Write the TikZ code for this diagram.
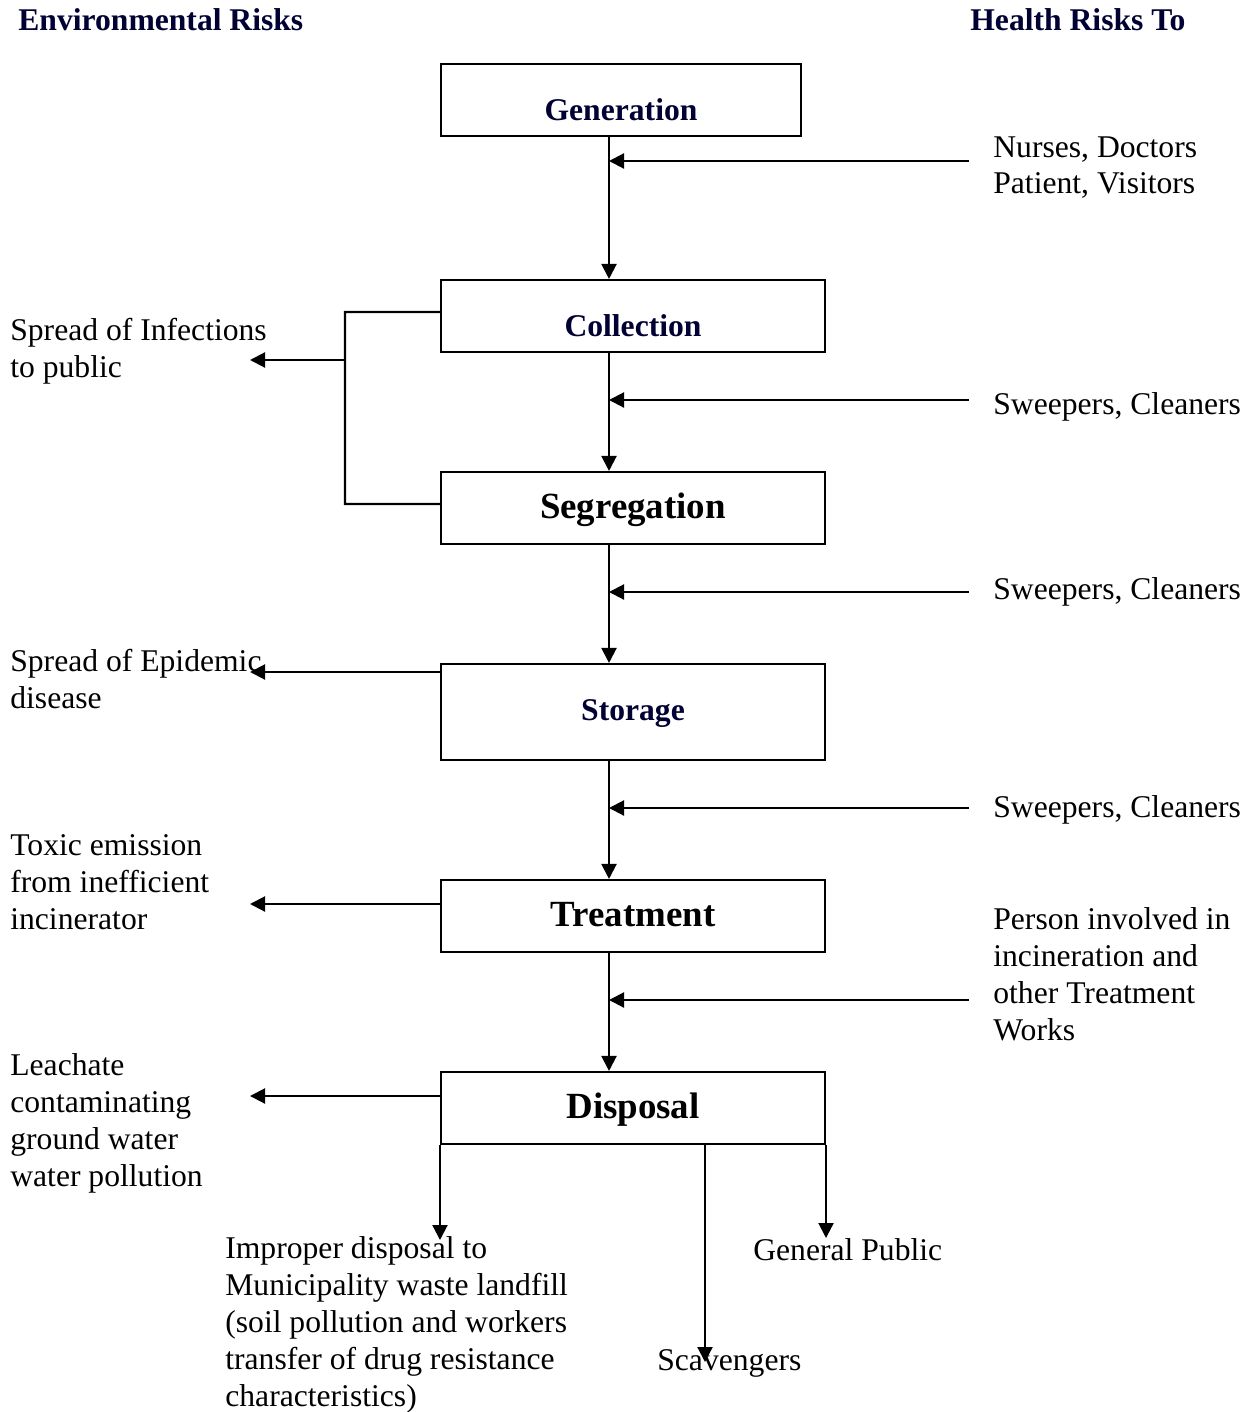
\documentclass[tikz,border=0pt]{standalone}
\usepackage{fontspec}
\setmainfont{Liberation Serif}
\usetikzlibrary{positioning,arrows.meta}
\definecolor{navy}{RGB}{0,0,51}

\begin{document}
\begin{tikzpicture}[x=0.02cm,y=-0.02cm]
  \useasboundingbox (0,0) rectangle (1256,1412);

  \coordinate (Gen) at (621,100);
  \coordinate (Col) at (633,316);
  \coordinate (Seg) at (633,508);
  \coordinate (Sto) at (633,712);
  \coordinate (Tre) at (633,916);
  \coordinate (Dis) at (633,1108);
  \coordinate (Spine) at (609,0);

  \tikzstyle{sbox}=[draw,line width=1.2pt,shape=rectangle,inner sep=0pt,
                    minimum width=7.68cm,minimum height=1.44cm,
                    font=\fontsize{21}{24}\selectfont\bfseries,
                    text height=0.42cm,text depth=0pt];
  \tikzstyle{nbox}=[sbox,text=navy,
                    font=\fontsize{18}{21}\selectfont\bfseries,
                    text height=0.84cm];
  \tikzstyle{head}=[inner sep=0pt,anchor=base west,text=navy,
                    font=\fontsize{18}{21}\selectfont\bfseries];
  \tikzstyle{txt}=[inner sep=0pt,align=left,anchor=base west,
                   font=\fontsize{18}{21}\selectfont];
  \tikzstyle{flow}=[->,line width=1.2pt,
                    >={Triangle[length=0.3cm,width=0.3cm]}];

  \node[head] (EnvHead) at (18,31) {Environmental Risks};
  \node[head] (HeaHead) at (970,31) {Health Risks To};

  \node[nbox,minimum width=7.2cm] (GenBox) at (Gen) {Generation};
  \node[nbox] (ColBox) at (Col) {Collection};
  \node[sbox] (SegBox) at (Seg) {Segregation};
  \node[nbox,minimum height=1.92cm,text height=0.34cm] (StoBox) at (Sto) {Storage};
  \node[sbox] (TreBox) at (Tre) {Treatment};
  \node[sbox] (DisBox) at (Dis) {Disposal};

  % main flow
  \draw[flow] (GenBox.south -| Spine) -- (ColBox.north -| Spine);
  \draw[flow] (ColBox.south -| Spine) -- (SegBox.north -| Spine);
  \draw[flow] (SegBox.south -| Spine) -- (StoBox.north -| Spine);
  \draw[flow] (StoBox.south -| Spine) -- (TreBox.north -| Spine);
  \draw[flow] (TreBox.south -| Spine) -- (DisBox.north -| Spine);

  % health risks
  \node[txt] (NurTxt) at (993,194) {Nurses, Doctors\\Patient, Visitors};
  \coordinate (NurTail) at (969,161);
  \draw[flow] (NurTail) -- (NurTail -| Spine);

  \node[txt] (SweTxtA) at (993,414) {Sweepers, Cleaners};
  \coordinate (SweTailA) at (969,400);
  \draw[flow] (SweTailA) -- (SweTailA -| Spine);

  \node[txt] (SweTxtB) at (993,599) {Sweepers, Cleaners};
  \coordinate (SweTailB) at (969,592);
  \draw[flow] (SweTailB) -- (SweTailB -| Spine);

  \node[txt] (SweTxtC) at (993,817) {Sweepers, Cleaners};
  \coordinate (SweTailC) at (969,808);
  \draw[flow] (SweTailC) -- (SweTailC -| Spine);

  \node[txt] (PerTxt) at (993,1040) {Person involved in\\incineration and\\other Treatment\\Works};
  \coordinate (PerTail) at (969,1000);
  \draw[flow] (PerTail) -- (PerTail -| Spine);

  % environmental risks
  \node[txt] (InfTxt) at (10,377) {Spread of Infections\\to public};
  \coordinate (InfHead) at (250,360);
  \draw[line width=1.2pt] ([yshift=0.08cm]ColBox.west) -| (345,504) -- ([yshift=0.08cm]SegBox.west);
  \draw[flow] (345,360) -- (InfHead);

  \node[txt] (EpiTxt) at (10,708) {Spread of Epidemic\\disease};
  \coordinate (EpiHead) at (250,672);
  \draw[flow] (EpiHead -| StoBox.west) -- (EpiHead);

  \node[txt] (ToxTxt) at (10,929) {Toxic emission\\from inefficient\\incinerator};
  \coordinate (ToxHead) at (250,904);
  \draw[flow] (ToxHead -| TreBox.west) -- (ToxHead);

  \node[txt] (LeaTxt) at (10,1186) {Leachate\\contaminating\\ground water\\water pollution};
  \coordinate (LeaHead) at (250,1096);
  \draw[flow] (LeaHead -| DisBox.west) -- (LeaHead);

  % disposal outlets
  \node[txt] (ImpTxt) at (225,1406) {Improper disposal to\\Municipality waste landfill\\(soil pollution and workers\\transfer of drug resistance\\characteristics)};
  \coordinate (ImpHead) at (441,1240);
  \draw[flow] (DisBox.south west) -- (DisBox.south west |- ImpHead);

  \node[txt] (GenTxt) at (753,1260) {General Public};
  \coordinate (PubHead) at (825,1238);
  \draw[flow] (DisBox.south east) -- (DisBox.south east |- PubHead);

  \node[txt] (ScaTxt) at (657,1370) {Scavengers};
  \coordinate (ScaHead) at (705,1362);
  \draw[flow] (ScaHead |- DisBox.south) -- (ScaHead);
\end{tikzpicture}
\end{document}
